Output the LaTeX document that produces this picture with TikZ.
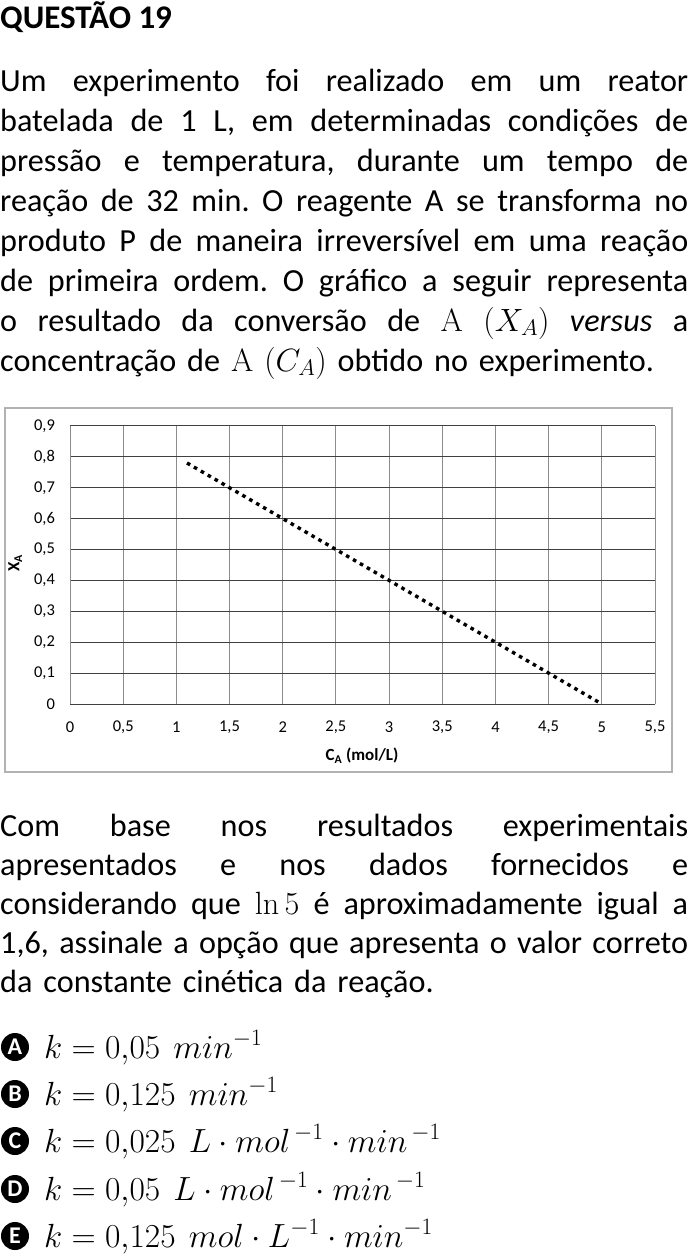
\RequirePackage{fix-cm}
\documentclass[tikz,border=0pt]{standalone}
\usepackage[no-math]{fontspec}
\setmainfont{Carlito}
\usetikzlibrary{calc}
\frenchspacing
\newcommand\justo{\spaceskip=0.34em plus 0.6em minus 0.13em\relax}

\begin{document}
\begin{tikzpicture}[x=1pt,y=-1pt,
  txt/.style={anchor=base west,inner sep=0pt,text width=688pt,font=\fontsize{32.2}{40}\selectfont},
  lab/.style={inner sep=0pt,font=\fontsize{16.5}{18}\selectfont},
  gridv/.style={draw=gray!90,line width=0.9pt},
  gridh/.style={draw=black!75,line width=0.9pt},
  letra/.style={circle,fill=black,text=white,inner sep=0pt,minimum size=28pt,font=\bfseries\fontsize{24}{24}\selectfont},
  resp/.style={anchor=base west,inner sep=0pt,font=\fontsize{33.5}{38}\selectfont}]
\useasboundingbox (0,0) rectangle (688,1256);

\node[anchor=base west,inner sep=0pt,font=\bfseries\fontsize{33}{36}\selectfont] (titulo) at (0,28) {QUESTÃO 19};

\node[txt] (enunciado) at (0,91) {\justo
\makebox[688pt][s]{Um experimento foi realizado em um reator}\\
\makebox[688pt][s]{batelada de 1 L, em determinadas condições de}\\
\makebox[688pt][s]{pressão e temperatura, durante um tempo de}\\
\makebox[688pt][s]{reação de 32 min. O reagente A se transforma no}\\
\makebox[688pt][s]{produto P de maneira irreversível em uma reação}\\
\makebox[688pt][s]{de primeira ordem. O gráfico a seguir representa}\\
\makebox[688pt][s]{o resultado da conversão de $\mathrm{A}\ (X_A)$ \textit{versus} a}\\
concentração de $\mathrm{A}\ (C_A)$ obtido no experimento.};

% grafico
\draw[gray!60,line width=1.3pt] (5,408) rectangle (672,772);
\begin{scope}[shift={(70,704)},x=106.36pt,y=309pt]
\coordinate (O) at (0,0);
\draw[gridv] (O) grid[xstep=0.5,ystep=1] (5.5,0.9);
\foreach \y in {1,...,8} {
 \draw[gridh] (0,\y/10) -- (5.5,\y/10);
}
\draw[gridh] (O) -- (5.5,0);
\draw[gridh] (0,0.9) -- (5.5,0.9);
\draw[gridv] (O) -- (0,0.9) (5.5,0) -- (5.5,0.9);
\foreach \x in {0,0.5,...,5.5} {
 \node[lab] (cx\x) at (\x,-0.075) {\pgfmathprintnumber[use comma,assume math mode=true]{\x}};
}
\foreach \y in {0,...,9} {
 \node[lab,anchor=east] (xy\y) at (-0.14,\y/10) {\ifnum\y=0 0\else 0,\y\fi};
}
\node[font=\bfseries\fontsize{17}{18}\selectfont] (eixox) at (2.745,-0.168) {C\textsubscript{A} (mol/L)};
\node[font=\bfseries\fontsize{17}{18}\selectfont,rotate=90] (eixoy) at (-0.515,0.456) {X\textsubscript{A}};
\coordinate (P1) at (1.1,0.78);
\coordinate (P2) at (5,0);
\draw[line width=3.4pt,dash pattern=on 3.6pt off 4.4pt] (P1) -- (P2);
\end{scope}

\node[txt,font=\fontsize{32.2}{39}\selectfont] (base) at (0,836) {\justo
\makebox[688pt][s]{Com base nos resultados experimentais}\\
\makebox[688pt][s]{apresentados e nos dados fornecidos e}\\
\makebox[688pt][s]{considerando que $\ln 5$ é aproximadamente igual a}\\
\makebox[688pt][s]{1,6, assinale a opção que apresenta o valor correto}\\
da constante cinética da reação.};

% alternativas
\foreach \l/\y/\eq in {A/1047/{k = 0{,}05\ \,min^{-1}},
  B/1094/{k = 0{,}125\ \,min^{-1}},
  C/1141/{k = 0{,}025\ \,L\cdot mol^{\,-1}\cdot min^{\,-1}},
  D/1189/{k = 0{,}05\ \,L\cdot mol^{\,-1}\cdot min^{\,-1}},
  E/1236/{k = 0{,}125\ \,mol\cdot L^{-1}\cdot min^{-1}}} {
 \node[letra] (letra\l) at (15,\y) {\l};
 \node[resp] (resp\l) at (44,\y+11) {$\eq$};
}
\end{tikzpicture}
\end{document}
